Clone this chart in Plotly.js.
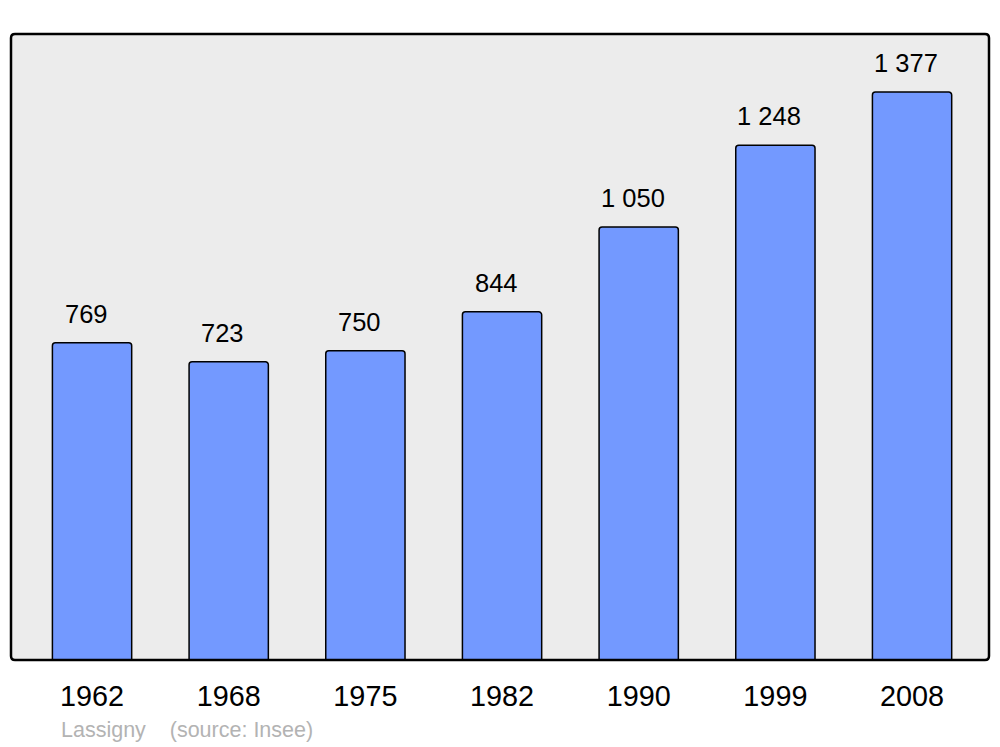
<!DOCTYPE html>
<html>
<head>
<meta charset="utf-8">
<script src="https://cdn.plot.ly/plotly-3.0.1.min.js"></script>
<style>html,body{margin:0;padding:0;background:#fff;}#chart{width:1000px;height:747px;}</style>
</head>
<body>
<div id="chart"></div>
<script>
const years = ["1962", "1968", "1975", "1982", "1990", "1999", "2008"];
const population = [769, 723, 750, 844, 1050, 1248, 1377];
const townName = "Lassigny";
const sourceText = "(source: Insee)";

function fmt(v) {
  return String(v).replace(/\B(?=(\d{3})+(?!\d))/g, "\u00A0");
}

const W = 1000, H = 747;
const mL = 11, mR = 11, mT = 34, mB = 87;
const pw = W - mL - mR, ph = H - mT - mB;
const r = 4;
const rx = r / pw, ry = r / ph;
const borderPath = `M ${rx} 0 L ${1 - rx} 0 Q 1 0 1 ${ry} L 1 ${1 - ry} Q 1 1 ${1 - rx} 1 L ${rx} 1 Q 0 1 0 ${1 - ry} L 0 ${ry} Q 0 0 ${rx} 0 Z`;

const trace = {
  type: "bar",
  x: years,
  y: population,
  marker: { color: "#7399ff", line: { color: "#000", width: 1.5 }, cornerradius: 3 },
  width: 0.58,
  hoverinfo: "skip"
};

const annotations = years.map((yr, i) => ({
  x: i, y: population[i], xref: "x", yref: "y",
  text: fmt(population[i]), showarrow: false,
  yanchor: "bottom", yshift: 13, xshift: -6,
  font: { family: "Liberation Sans, Arial, sans-serif", size: 25.5, color: "#000" }
}));
annotations.push({
  xref: "paper", yref: "paper", x: (59 - mL) / pw, y: -(730 - 660) / ph,
  xanchor: "left", yanchor: "middle", showarrow: false,
  text: townName + "\u00A0\u00A0\u00A0 " + sourceText,
  font: { family: "Liberation Sans, Arial, sans-serif", size: 21.5, color: "#b3b3b3" }
});

const layout = {
  width: W, height: H,
  margin: { l: mL, r: mR, t: mT, b: mB, pad: 0 },
  paper_bgcolor: "#ffffff",
  plot_bgcolor: "#ececec",
  showlegend: false,
  xaxis: {
    type: "category", range: [-0.593, 6.563], showgrid: false, zeroline: false,
    showline: false, ticks: "",
    tickfont: { family: "Liberation Sans, Arial, sans-serif", size: 28.8, color: "#000" },
    ticklabelstandoff: 16
  },
  yaxis: {
    range: [0, 1517.6], showgrid: false, zeroline: false, showticklabels: false,
    ticks: "", showline: false
  },
  shapes: [{
    type: "path", xref: "paper", yref: "paper", path: borderPath,
    line: { color: "#000", width: 2.5 }, fillcolor: "rgba(0,0,0,0)", layer: "above"
  }],
  annotations: annotations
};

Plotly.newPlot("chart", [trace], layout, { staticPlot: true, displayModeBar: false });
</script>
</body>
</html>
